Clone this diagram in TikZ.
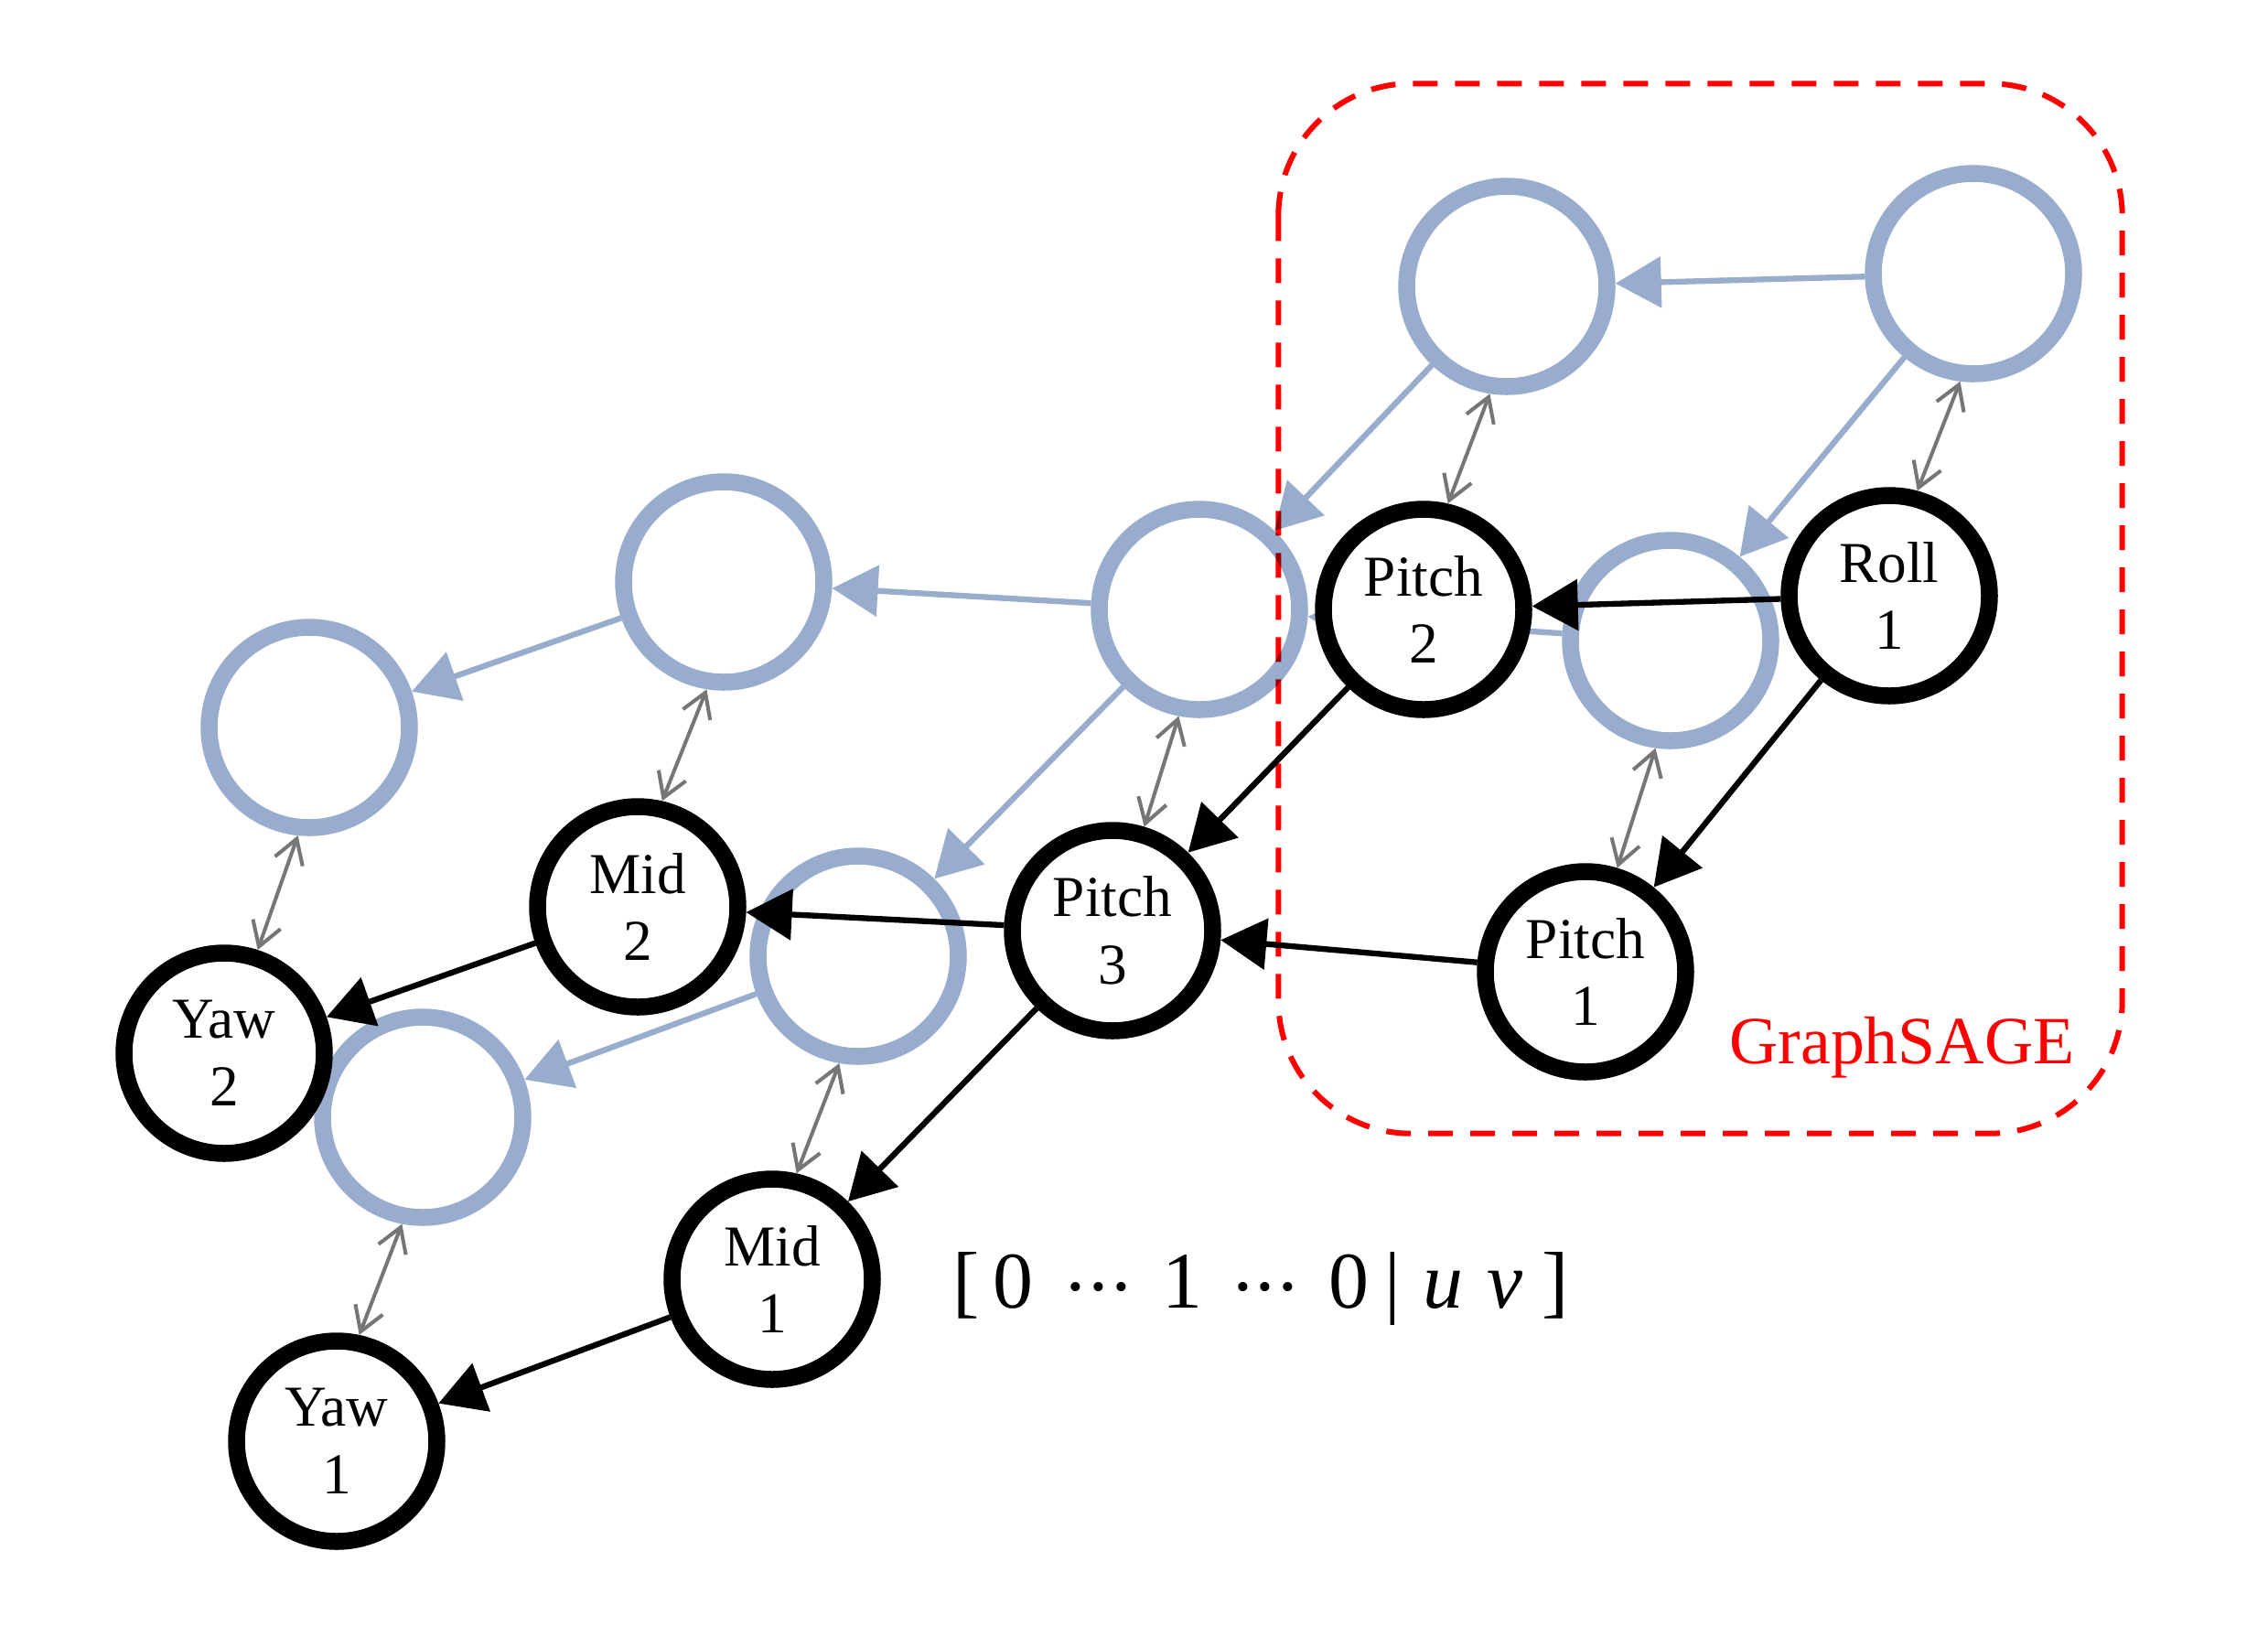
\documentclass[tikz,border=0pt]{standalone}
\usepackage{fontspec}
\setmainfont{Liberation Serif}
\usetikzlibrary{arrows.meta}
\definecolor{sageblue}{RGB}{152,172,205}
\definecolor{arrgray}{RGB}{118,118,118}
\newcommand{\hdots}{\raisebox{2.4pt}{\fontsize{12}{12}\selectfont •\hspace{0.1cm}•\hspace{0.1cm}•}}
\begin{document}
\begin{tikzpicture}[
  blk/.style={circle,draw=black,line width=0.185cm,fill=white,minimum size=2.19cm,inner sep=0pt,align=center,font=\fontsize{18}{21}\selectfont},
  blu/.style={circle,draw=sageblue,line width=0.185cm,minimum size=2.19cm,inner sep=0pt},
  bedge/.style={draw=black,line width=1.8pt,-{Triangle[length=0.5cm,width=0.55cm]}},
  uedge/.style={draw=sageblue,line width=1.8pt,-{Triangle[length=0.5cm,width=0.55cm]}},
  gedge/.style={draw=arrgray,line width=1.15pt,{Straight Barb[length=0.26cm,width=0.32cm]}-{Straight Barb[length=0.26cm,width=0.32cm]}},
  redbox/.style={draw=red,line width=0.06cm,dash pattern=on 0.27cm off 0.19cm,rounded corners=1.45cm}
]
\useasboundingbox (0,0) rectangle (24.79,-18);
% blue layer
\node[blu] (B1) at (3.38,-7.95) {};
\node[blu] (B2) at (7.91,-6.36) {};
\node[blu] (B3) at (13.11,-6.66) {};
\node[blu] (B4) at (9.38,-10.45) {};
\node[blu] (B5) at (4.62,-12.21) {};
\node[blu] (B6) at (16.47,-3.13) {};
\node[blu] (B7) at (21.57,-2.99) {};
\node[blu] (B8) at (18.26,-7.00) {};
\draw[uedge] (B2) -- (B1);
\draw[uedge] (B3) -- (B2);
\draw[uedge] (B3) -- (B4);
\draw[uedge] (B4) -- (B5);
\draw[uedge] (B6) -- (B3);
\draw[uedge] (B7) -- (B6);
\draw[uedge] (B7) -- (B8);
\draw[uedge] (B8) -- (B3);
% GraphSAGE frame
\begin{scope}[blend mode=multiply]
\node[draw=none,minimum width=9.21cm,minimum height=11.46cm,inner sep=0pt] (frame) at (18.585,-6.65) {};
\draw[redbox] (frame.north west) rectangle (frame.south east);
\end{scope}
\node[text=red,font=\fontsize{21}{25}\selectfont,inner sep=0pt] (gs) at (20.79,-11.45) {GraphSAGE};
% black layer
\node[blk] (Yaw2) at (2.45,-11.51) {Yaw\\2};
\node[blk] (Yaw1) at (3.68,-15.75) {Yaw\\1};
\node[blk] (Mid2) at (6.97,-9.91) {Mid\\2};
\node[blk] (Mid1) at (8.44,-13.98) {Mid\\1};
\node[blk] (Pitch3) at (12.16,-10.17) {Pitch\\3};
\node[blk] (Pitch2) at (15.56,-6.66) {Pitch\\2};
\node[blk] (Pitch1) at (17.33,-10.62) {Pitch\\1};
\node[blk] (Roll1) at (20.65,-6.51) {Roll\\1};
\draw[bedge] (Mid2) -- (Yaw2);
\draw[bedge] (Mid1) -- (Yaw1);
\draw[bedge] (Pitch3) -- (Mid2);
\draw[bedge] (Pitch3) -- (Mid1);
\draw[bedge] (Pitch2) -- (Pitch3);
\draw[bedge] (Pitch1) -- (Pitch3);
\draw[bedge] (Roll1) -- (Pitch2);
\draw[bedge] (Roll1) -- (Pitch1);
% vertical links
\draw[gedge] (Yaw2.72) -- (B1.264);
\draw[gedge] (Mid2.77) -- (B2.261);
\draw[gedge] (Pitch3.73) -- (B3.259);
\draw[gedge] (Mid1.77) -- (B4.260);
\draw[gedge] (Yaw1.78) -- (B5.259);
\draw[gedge] (Pitch2.77) -- (B6.261);
\draw[gedge] (Roll1.75) -- (B7.263);
\draw[gedge] (Pitch1.73) -- (B8.262);
% feature vector
\node[font=\fontsize{25}{30}\selectfont,inner sep=0pt] (vec) at (13.78,-14.08)
  {[\hspace{0.17em}0\hspace{0.45em}\hdots\hspace{0.42em}1\hspace{0.42em}\hdots\hspace{0.42em}0\hspace{0.2em}|\hspace{0.27em}\textit{u}\hspace{0.3em}\textit{v}\hspace{0.24em}]};
\end{tikzpicture}
\end{document}
